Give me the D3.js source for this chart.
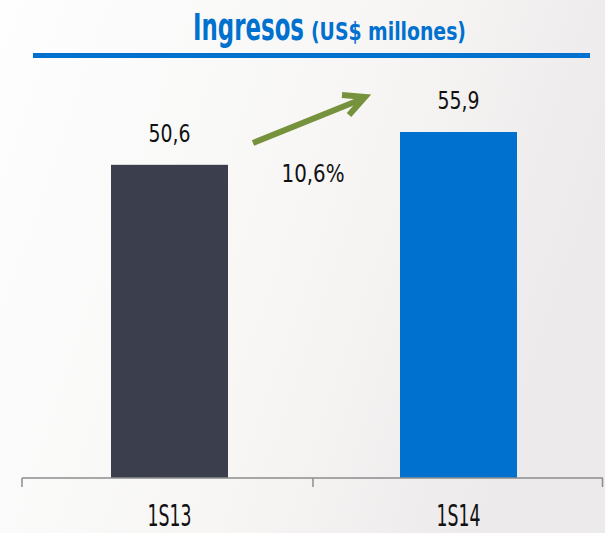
<!DOCTYPE html>
<html><head><meta charset="utf-8">
<script src="https://cdn.jsdelivr.net/npm/d3@7"></script>
<style>
html,body{margin:0;padding:0;overflow:hidden;}
svg{display:block;}
</style></head>
<body>
<svg id="chart" width="605" height="533"></svg>
<script>
const categories = ["1S13", "1S14"];
const values = [50.6, 55.9];
const valueLabels = ["50,6", "55,9"];
const growthLabel = "10,6%";
const titleMain = "Ingresos";
const titleSub = "(US$ millones)";
const barColors = ["#3b3e4c", "#0071ce"];

const W = 605, H = 533;
const svg = d3.select("#chart");
const font = "'DejaVu Sans Condensed','DejaVu Sans',sans-serif";

const defs = svg.append("defs");
const grad = defs.append("linearGradient").attr("id", "bg").attr("x1", "0").attr("x2", "1").attr("y1", "0").attr("y2", "0.3");
grad.append("stop").attr("offset", "0").attr("stop-color", "#fefefe");
grad.append("stop").attr("offset", "0.6").attr("stop-color", "#f7f6f5");
grad.append("stop").attr("offset", "1").attr("stop-color", "#eceaea");
svg.append("rect").attr("width", W).attr("height", H).attr("fill", "url(#bg)");

// text squeezed horizontally to a target width (condensed look)
function label(xPos, yPos, txt, size, len, opts = {}) {
  const g = svg.append("g");
  const t = g.append("text").attr("x", 0).attr("y", 0)
    .attr("text-anchor", opts.anchor || "middle")
    .attr("font-family", font).attr("font-size", size)
    .attr("font-weight", opts.weight || "normal")
    .attr("fill", opts.fill || "#111")
    .text(txt);
  const natural = t.node().getComputedTextLength() || len;
  g.attr("transform", `translate(${xPos},${yPos}) scale(${len / natural},1)`);
  return t;
}

// title
label(193, 40, titleMain, 37, 111, {anchor: "start", weight: "bold", fill: "#0071ce"});
label(311, 40, titleSub, 25, 155, {anchor: "start", weight: "bold", fill: "#0071ce"});
svg.append("rect").attr("x", 33).attr("y", 53).attr("width", 557).attr("height", 5).attr("fill", "#0071ce");

// scales
const x = d3.scaleBand().domain(categories).range([25, 603]).paddingInner(0).paddingOuter(0);
const y = d3.scaleLinear().domain([0, 55.9]).range([478, 132]);
const barW = 117;

svg.selectAll("rect.bar").data(values).enter().append("rect").attr("class", "bar")
  .attr("x", (d, i) => x(categories[i]) + x.bandwidth() / 2 - barW / 2)
  .attr("y", d => y(d))
  .attr("width", barW)
  .attr("height", d => y(0) - y(d))
  .attr("fill", (d, i) => barColors[i]);

// axis
const axisG = svg.append("g").attr("transform", `translate(0,${y(0)})`);
axisG.append("line").attr("x1", 22).attr("x2", 603).attr("y1", 0).attr("y2", 0).attr("stroke", "#8c8c8c").attr("stroke-width", 1.5);
const tickXs = [22, 313, 602.5];
axisG.selectAll("line.tick").data(tickXs).enter().append("line")
  .attr("x1", d => d).attr("x2", d => d).attr("y1", 0).attr("y2", 9)
  .attr("stroke", "#8c8c8c").attr("stroke-width", 1.5);

categories.forEach(c => label(x(c) + x.bandwidth() / 2, 526, c, 30, 44));

values.forEach((d, i) => label(x(categories[i]) + x.bandwidth() / 2, y(d) - 23, valueLabels[i], 25, 42));

// growth arrow
const arrowColor = "#76923c";
svg.append("line").attr("x1", 253).attr("y1", 143).attr("x2", 362).attr("y2", 99)
  .attr("stroke", arrowColor).attr("stroke-width", 6);
svg.append("path").attr("d", "M342,95 L365,97 L349,115")
  .attr("fill", "none").attr("stroke", arrowColor).attr("stroke-width", 6).attr("stroke-linejoin", "miter");

label(313, 182, growthLabel, 25, 63);
</script>
</body></html>
